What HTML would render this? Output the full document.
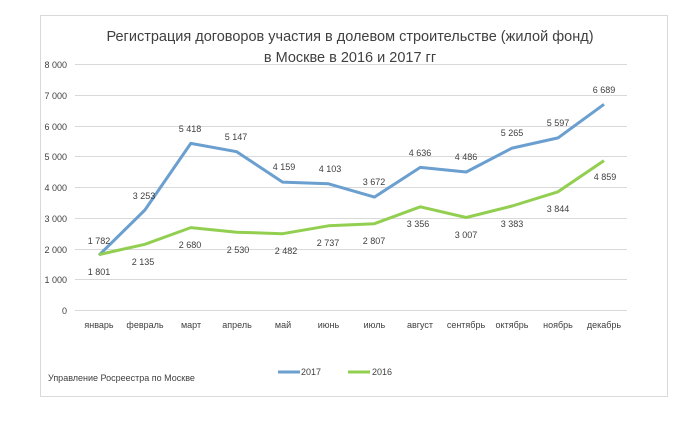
<!DOCTYPE html>
<html><head><meta charset="utf-8"><style>
body{margin:0;background:#fff;}
svg text{font-family:"Liberation Sans",sans-serif;fill:#404040;}
</style></head><body>
<svg width="700" height="416" xmlns="http://www.w3.org/2000/svg">
<rect x="40.5" y="15.5" width="627" height="381" fill="#fff" stroke="#d9d9d9"/>
<text x="350" y="41" font-size="14.5" text-anchor="middle" fill="#595959">Регистрация договоров участия в долевом строительстве (жилой фонд)</text>
<text x="350" y="62" font-size="14.5" text-anchor="middle" fill="#595959">в Москве в 2016 и 2017 гг</text>
<g stroke="#d9d9d9" stroke-width="1">
<line x1="75" x2="627" y1="64.5" y2="64.5"/><line x1="75" x2="627" y1="95.5" y2="95.5"/>
<line x1="75" x2="627" y1="126.5" y2="126.5"/><line x1="75" x2="627" y1="156.5" y2="156.5"/>
<line x1="75" x2="627" y1="187.5" y2="187.5"/><line x1="75" x2="627" y1="218.5" y2="218.5"/>
<line x1="75" x2="627" y1="249.5" y2="249.5"/><line x1="75" x2="627" y1="279.5" y2="279.5"/>
<line x1="75" x2="627" y1="310.5" y2="310.5"/>
</g>
<g font-size="9" text-anchor="end">
<text x="67" y="68">8 000</text><text x="67" y="99">7 000</text><text x="67" y="130">6 000</text>
<text x="67" y="160">5 000</text><text x="67" y="191">4 000</text><text x="67" y="222">3 000</text>
<text x="67" y="253">2 000</text><text x="67" y="283">1 000</text><text x="67" y="314">0</text>
</g>
<g font-size="9" text-anchor="middle">
<text x="99" y="328">январь</text><text x="145" y="328">февраль</text><text x="191" y="328">март</text>
<text x="237" y="328">апрель</text><text x="283" y="328">май</text><text x="328.5" y="328">июнь</text>
<text x="374.4" y="328">июль</text><text x="420" y="328">август</text><text x="466" y="328">сентябрь</text>
<text x="512" y="328">октябрь</text><text x="558" y="328">ноябрь</text><text x="604" y="328">декабрь</text>
</g>
<polyline fill="none" stroke="#6a9fcf" stroke-width="3" stroke-linejoin="round" points="99,255.2 144.9,210 190.8,143.4 236.7,151.7 282.6,182.1 328.5,183.8 374.4,197.1 420.3,167.4 466.2,172 512.1,148.1 558,137.9 604,104.3"/>
<polyline fill="none" stroke="#92cf50" stroke-width="3" stroke-linejoin="round" points="99,254.6 144.9,244.3 190.8,227.6 236.7,232.2 282.6,233.7 328.5,225.8 374.4,223.7 420.3,206.8 466.2,217.5 512.1,206 558,191.8 604,160.6"/>
<g font-size="9" text-anchor="middle">
<text x="99" y="244">1 782</text><text x="144" y="199">3 253</text><text x="190" y="132">5 418</text>
<text x="236" y="140">5 147</text><text x="284" y="170">4 159</text><text x="330" y="172">4 103</text>
<text x="374" y="185">3 672</text><text x="420" y="156">4 636</text><text x="466" y="160">4 486</text>
<text x="512" y="136">5 265</text><text x="558" y="126">5 597</text><text x="604" y="93">6 689</text>
<text x="99" y="275">1 801</text><text x="143" y="265">2 135</text><text x="190" y="248">2 680</text>
<text x="238" y="253">2 530</text><text x="286" y="254">2 482</text><text x="328" y="246">2 737</text>
<text x="374" y="244">2 807</text><text x="418" y="227">3 356</text><text x="466" y="238">3 007</text>
<text x="512" y="227">3 383</text><text x="558" y="212">3 844</text><text x="605" y="180">4 859</text>
</g>
<line x1="278" x2="300" y1="372" y2="372" stroke="#6a9fcf" stroke-width="3"/>
<text x="301" y="375" font-size="9">2017</text>
<line x1="348" x2="370" y1="372" y2="372" stroke="#92cf50" stroke-width="3"/>
<text x="372" y="375" font-size="9">2016</text>
<text x="48" y="381" font-size="9" fill="#000">Управление Росреестра по Москве</text>
</svg>
</body></html>
